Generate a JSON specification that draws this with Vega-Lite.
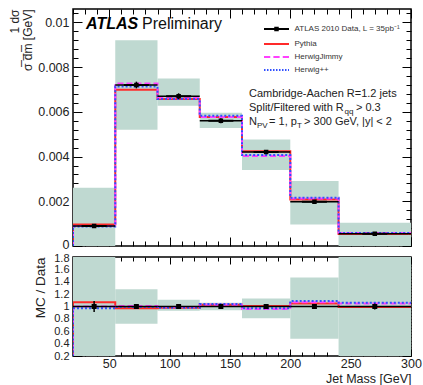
{
  "$schema": "https://vega.github.io/schema/vega-lite/v6.json",
  "padding": {"left": 7, "top": 6, "right": 3, "bottom": 2},
  "spacing": 11,
  "bounds": "flush",
  "config": {
    "font": "Liberation Sans",
    "view": {"stroke": "#000000", "strokeWidth": 1.5},
    "axis": {"domain": false, "grid": false, "labelColor": "#222222", "titleColor": "#222222", "titleFontWeight": "normal", "tickColor": "#000000", "tickWidth": 1, "labelOverlap": false, "labelBound": false, "labelFlush": false}
  },
  "datasets": {
    "bins": [
      {"series": "ATLAS 2010 Data, L = 35pb⁻¹", "lo": 20, "hi": 55, "mid": 37.5, "y": 0.0009, "ylo": 0.00082, "yhi": 0.00098, "blo": 0, "bhi": 0.0026, "r": 1, "rlo": 0.91, "rhi": 1.09, "rblo": 0, "rbhi": 2.89},
      {"series": "ATLAS 2010 Data, L = 35pb⁻¹", "lo": 55, "hi": 90, "mid": 72.5, "y": 0.0072, "ylo": 0.00705, "yhi": 0.00735, "blo": 0.0052, "bhi": 0.0092, "r": 1, "rlo": 0.98, "rhi": 1.02, "rblo": 0.72, "rbhi": 1.28},
      {"series": "ATLAS 2010 Data, L = 35pb⁻¹", "lo": 90, "hi": 125, "mid": 107.5, "y": 0.0067, "ylo": 0.00657, "yhi": 0.00683, "blo": 0.00627, "bhi": 0.00749, "r": 1, "rlo": 0.98, "rhi": 1.02, "rblo": 0.93, "rbhi": 1.11},
      {"series": "ATLAS 2010 Data, L = 35pb⁻¹", "lo": 125, "hi": 160, "mid": 142.5, "y": 0.0056, "ylo": 0.00549, "yhi": 0.00571, "blo": 0.00528, "bhi": 0.00596, "r": 1, "rlo": 0.98, "rhi": 1.02, "rblo": 0.94, "rbhi": 1.06},
      {"series": "ATLAS 2010 Data, L = 35pb⁻¹", "lo": 160, "hi": 200, "mid": 180, "y": 0.0042, "ylo": 0.00411, "yhi": 0.00429, "blo": 0.0034, "bhi": 0.00476, "r": 1, "rlo": 0.98, "rhi": 1.02, "rblo": 0.81, "rbhi": 1.13},
      {"series": "ATLAS 2010 Data, L = 35pb⁻¹", "lo": 200, "hi": 240, "mid": 220, "y": 0.00198, "ylo": 0.00191, "yhi": 0.00205, "blo": 0.00096, "bhi": 0.00291, "r": 1, "rlo": 0.96, "rhi": 1.04, "rblo": 0.48, "rbhi": 1.47},
      {"series": "ATLAS 2010 Data, L = 35pb⁻¹", "lo": 240, "hi": 300, "mid": 270, "y": 0.00055, "ylo": 0.0005, "yhi": 0.0006, "blo": 0, "bhi": 0.00104, "r": 1, "rlo": 0.95, "rhi": 1.05, "rblo": 0, "rbhi": 1.89}
    ],
    "mc": [
      {"series": "Pythia", "edge": 20, "value": 0, "ratio": 0},
      {"series": "Pythia", "edge": 20, "value": 0.00096, "ratio": 1.07},
      {"series": "Pythia", "edge": 55, "value": 0.00699, "ratio": 0.97},
      {"series": "Pythia", "edge": 90, "value": 0.00657, "ratio": 0.98},
      {"series": "Pythia", "edge": 125, "value": 0.00577, "ratio": 1.03},
      {"series": "Pythia", "edge": 160, "value": 0.00424, "ratio": 1.01},
      {"series": "Pythia", "edge": 200, "value": 0.00208, "ratio": 1.05},
      {"series": "Pythia", "edge": 240, "value": 0.00054, "ratio": 0.99},
      {"series": "Pythia", "edge": 300, "value": 0.00054, "ratio": 0.99},
      {"series": "HerwigJimmy", "edge": 20, "value": 0, "ratio": 0},
      {"series": "HerwigJimmy", "edge": 20, "value": 0.0009, "ratio": 1.0},
      {"series": "HerwigJimmy", "edge": 55, "value": 0.00727, "ratio": 1.01},
      {"series": "HerwigJimmy", "edge": 90, "value": 0.00663, "ratio": 0.99},
      {"series": "HerwigJimmy", "edge": 125, "value": 0.00577, "ratio": 1.03},
      {"series": "HerwigJimmy", "edge": 160, "value": 0.00403, "ratio": 0.96},
      {"series": "HerwigJimmy", "edge": 200, "value": 0.00212, "ratio": 1.07},
      {"series": "HerwigJimmy", "edge": 240, "value": 0.00058, "ratio": 1.05},
      {"series": "HerwigJimmy", "edge": 300, "value": 0.00058, "ratio": 1.05},
      {"series": "Herwig++", "edge": 20, "value": 0, "ratio": 0},
      {"series": "Herwig++", "edge": 20, "value": 0.00087, "ratio": 0.97},
      {"series": "Herwig++", "edge": 55, "value": 0.00713, "ratio": 0.99},
      {"series": "Herwig++", "edge": 90, "value": 0.00657, "ratio": 0.98},
      {"series": "Herwig++", "edge": 125, "value": 0.00582, "ratio": 1.04},
      {"series": "Herwig++", "edge": 160, "value": 0.00407, "ratio": 0.97},
      {"series": "Herwig++", "edge": 200, "value": 0.00216, "ratio": 1.09},
      {"series": "Herwig++", "edge": 240, "value": 0.00058, "ratio": 1.06},
      {"series": "Herwig++", "edge": 300, "value": 0.00058, "ratio": 1.06}
    ]
  },
  "vconcat": [
    {
      "width": 338,
      "height": 237,
      "resolve": {"axis": {"x": "independent", "y": "independent"}},
      "layer": [
        {
          "data": {"name": "bins"},
          "mark": {"type": "rect", "color": "#bfd9d1"},
          "encoding": {
            "x": {"field": "lo", "type": "quantitative", "scale": {"domain": [20, 300], "nice": false, "zero": false},
              "axis": {"orient": "bottom", "values": [20,30,40,50,60,70,80,90,100,110,120,130,140,150,160,170,180,190,200,210,220,230,240,250,260,270,280,290,300], "labels": false, "title": null,
                "tickSize": {"condition": {"test": "datum.value % 50 === 0", "value": -9}, "value": -5}}},
            "x2": {"field": "hi"},
            "y": {"field": "blo", "type": "quantitative", "scale": {"domain": [0, 0.0106], "nice": false, "zero": false},
              "axis": {"orient": "left", "values": [0,0.0004,0.0008,0.0012,0.0016,0.002,0.0024,0.0028,0.0032,0.0036,0.004,0.0044,0.0048,0.0052,0.0056,0.006,0.0064,0.0068,0.0072,0.0076,0.008,0.0084,0.0088,0.0092,0.0096,0.01,0.0104],
                "labelExpr": "abs(datum.value*500 - round(datum.value*500)) < 0.01 ? format(datum.value, '~g') : ''",
                "labelFontSize": 12.5, "labelPadding": 13,
                "labelOffset": {"condition": {"test": "datum.value === 0", "value": -2}, "value": 0},
                "tickSize": {"condition": {"test": "abs(datum.value*500 - round(datum.value*500)) < 0.01", "value": -9}, "value": -5},
                "title": ["1   dσ           ", "σ̅   d̅m̅ [GeV]"],
                "titleAnchor": "end", "titleFontSize": 12, "titleLineHeight": 13, "titlePadding": 3}},
            "y2": {"field": "bhi"}
          }
        },
        {
          "data": {"name": "mc"},
          "mark": {"type": "line", "interpolate": "step-after", "strokeWidth": 2, "clip": true},
          "encoding": {
            "x": {"field": "edge", "type": "quantitative", "scale": {"domain": [20, 300], "nice": false, "zero": false},
              "axis": {"orient": "top", "values": [20,30,40,50,60,70,80,90,100,110,120,130,140,150,160,170,180,190,200,210,220,230,240,250,260,270,280,290,300], "labels": false, "title": null,
                "tickSize": {"condition": {"test": "datum.value % 50 === 0", "value": -9}, "value": -5}}},
            "y": {"field": "value", "type": "quantitative", "scale": {"domain": [0, 0.0106], "nice": false, "zero": false},
              "axis": {"orient": "right", "values": [0,0.0004,0.0008,0.0012,0.0016,0.002,0.0024,0.0028,0.0032,0.0036,0.004,0.0044,0.0048,0.0052,0.0056,0.006,0.0064,0.0068,0.0072,0.0076,0.008,0.0084,0.0088,0.0092,0.0096,0.01,0.0104], "labels": false, "title": null,
                "tickSize": {"condition": {"test": "abs(datum.value*500 - round(datum.value*500)) < 0.01", "value": -9}, "value": -5}}},
            "stroke": {"field": "series", "type": "nominal", "scale": {"domain": ["Pythia", "HerwigJimmy", "Herwig++"], "range": ["#ff2a2a", "#ff40ff", "#3050ff"]}, "legend": null},
            "strokeDash": {"field": "series", "type": "nominal", "scale": {"domain": ["Pythia", "HerwigJimmy", "Herwig++"], "range": [[1, 0], [6, 3], [2, 2]]}, "legend": null}
          }
        },
        {
          "data": {"name": "bins"},
          "mark": {"type": "rule", "color": "#000000", "strokeWidth": 1.5},
          "encoding": {
            "x": {"field": "lo", "type": "quantitative", "axis": null},
            "x2": {"field": "hi"},
            "y": {"field": "y", "type": "quantitative", "axis": null}
          }
        },
        {
          "data": {"name": "bins"},
          "mark": {"type": "rule", "color": "#000000", "strokeWidth": 1.5},
          "encoding": {
            "x": {"field": "mid", "type": "quantitative", "axis": null},
            "y": {"field": "ylo", "type": "quantitative", "axis": null},
            "y2": {"field": "yhi"}
          }
        },
        {
          "data": {"name": "bins"},
          "mark": {"type": "point", "size": 36, "filled": false, "strokeWidth": 2, "opacity": 1},
          "encoding": {
            "x": {"field": "mid", "type": "quantitative", "axis": null},
            "y": {"field": "y", "type": "quantitative", "axis": null},
            "color": {"field": "series", "type": "nominal",
              "scale": {"domain": ["ATLAS 2010 Data, L = 35pb⁻¹", "Pythia", "HerwigJimmy", "Herwig++"], "range": ["#000000", "#ff2a2a", "#ff40ff", "#3050ff"]},
              "legend": {"orient": "none", "legendX": 199.5, "legendY": 16, "title": null, "symbolSize": 36, "symbolStrokeWidth": 2, "labelFontSize": 8, "labelColor": "#333333", "rowPadding": 5, "padding": 0, "labelOffset": 14, "labelLimit": 300}},
            "shape": {"field": "series", "type": "nominal",
              "scale": {"domain": ["ATLAS 2010 Data, L = 35pb⁻¹", "Pythia", "HerwigJimmy", "Herwig++"],
                "range": ["M-4.1667,0H4.1667M-0.4167,-0.4167H0.4167V0.4167H-0.4167Z", "M-4.1667,0H4.1667", "M-4.1667,0H-2.0833M-1.0417,0H1.0417M2.0833,0H4.1667", "M-4.1667,0H-3.6667M-3.1667,0H-2.6667M-2.1667,0H-1.6667M-1.1667,0H-0.6667M-0.1667,0H0.3333M0.8333,0H1.3333M1.8333,0H2.3333M2.8333,0H3.3333M3.8333,0H4.1667"]},
              "legend": {"orient": "none", "legendX": 199.5, "legendY": 16, "title": null, "symbolSize": 36, "symbolStrokeWidth": 2, "labelFontSize": 8, "labelColor": "#333333", "rowPadding": 5, "padding": 0, "labelOffset": 14, "labelLimit": 300}}
          }
        },
        {
          "data": {"values": [{}]},
          "mark": {"type": "text", "text": "ATLAS", "align": "left", "baseline": "alphabetic", "fontSize": 16, "fontWeight": "bold", "fontStyle": "italic", "color": "#000000"},
          "encoding": {"x": {"datum": 30.8, "type": "quantitative", "axis": null}, "y": {"datum": 0.009706, "type": "quantitative", "axis": null}}
        },
        {
          "data": {"values": [{}]},
          "mark": {"type": "text", "text": "Preliminary", "align": "left", "baseline": "alphabetic", "fontSize": 16, "color": "#111111"},
          "encoding": {"x": {"datum": 77.2, "type": "quantitative", "axis": null}, "y": {"datum": 0.009706, "type": "quantitative", "axis": null}}
        },
        {
          "data": {"values": [{}]},
          "mark": {"type": "text", "text": "Cambridge-Aachen R=1.2 jets", "align": "left", "baseline": "alphabetic", "fontSize": 11, "color": "#222222"},
          "encoding": {"x": {"datum": 165.8, "type": "quantitative", "axis": null}, "y": {"datum": 0.006686, "type": "quantitative", "axis": null}}
        },
        {
          "data": {"values": [{}]},
          "mark": {"type": "text", "text": "Split/Filtered with R", "align": "left", "baseline": "alphabetic", "fontSize": 11, "color": "#222222"},
          "encoding": {"x": {"datum": 165.8, "type": "quantitative", "axis": null}, "y": {"datum": 0.00606, "type": "quantitative", "axis": null}}
        },
        {
          "data": {"values": [{}]},
          "mark": {"type": "text", "text": "qq", "align": "left", "baseline": "alphabetic", "fontSize": 8, "color": "#222222"},
          "encoding": {"x": {"datum": 244.9, "type": "quantitative", "axis": null}, "y": {"datum": 0.005926, "type": "quantitative", "axis": null}}
        },
        {
          "data": {"values": [{}]},
          "mark": {"type": "text", "text": "> 0.3", "align": "left", "baseline": "alphabetic", "fontSize": 11, "color": "#222222"},
          "encoding": {"x": {"datum": 254.4, "type": "quantitative", "axis": null}, "y": {"datum": 0.00606, "type": "quantitative", "axis": null}}
        },
        {
          "data": {"values": [{}]},
          "mark": {"type": "text", "text": "N", "align": "left", "baseline": "alphabetic", "fontSize": 11, "color": "#222222"},
          "encoding": {"x": {"datum": 165.8, "type": "quantitative", "axis": null}, "y": {"datum": 0.005434, "type": "quantitative", "axis": null}}
        },
        {
          "data": {"values": [{}]},
          "mark": {"type": "text", "text": "PV", "align": "left", "baseline": "alphabetic", "fontSize": 8, "color": "#222222"},
          "encoding": {"x": {"datum": 172.4, "type": "quantitative", "axis": null}, "y": {"datum": 0.0053, "type": "quantitative", "axis": null}}
        },
        {
          "data": {"values": [{}]},
          "mark": {"type": "text", "text": "= 1, p", "align": "left", "baseline": "alphabetic", "fontSize": 11, "color": "#222222"},
          "encoding": {"x": {"datum": 182.4, "type": "quantitative", "axis": null}, "y": {"datum": 0.005434, "type": "quantitative", "axis": null}}
        },
        {
          "data": {"values": [{}]},
          "mark": {"type": "text", "text": "T", "align": "left", "baseline": "alphabetic", "fontSize": 8, "color": "#222222"},
          "encoding": {"x": {"datum": 205.6, "type": "quantitative", "axis": null}, "y": {"datum": 0.0053, "type": "quantitative", "axis": null}}
        },
        {
          "data": {"values": [{}]},
          "mark": {"type": "text", "text": "> 300 GeV, |y| < 2", "align": "left", "baseline": "alphabetic", "fontSize": 11, "color": "#222222"},
          "encoding": {"x": {"datum": 211.4, "type": "quantitative", "axis": null}, "y": {"datum": 0.005434, "type": "quantitative", "axis": null}}
        }
      ]
    },
    {
      "width": 338,
      "height": 99,
      "resolve": {"axis": {"x": "independent", "y": "independent"}},
      "layer": [
        {
          "data": {"name": "bins"},
          "mark": {"type": "rect", "color": "#bfd9d1", "clip": true},
          "encoding": {
            "x": {"field": "lo", "type": "quantitative", "scale": {"domain": [20, 300], "nice": false, "zero": false},
              "axis": {"orient": "bottom", "values": [20,30,40,50,60,70,80,90,100,110,120,130,140,150,160,170,180,190,200,210,220,230,240,250,260,270,280,290,300],
                "labelExpr": "datum.value % 50 === 0 ? datum.label : ''", "labelFontSize": 12.5, "labelPadding": 8,
                "tickSize": {"condition": {"test": "datum.value % 50 === 0", "value": -7}, "value": -4},
                "title": "Jet Mass [GeV]", "titleAnchor": "end", "titleFontSize": 12.5, "titlePadding": 0}},
            "x2": {"field": "hi"},
            "y": {"field": "rblo", "type": "quantitative", "scale": {"domain": [0.2, 1.8], "nice": false, "zero": false},
              "axis": {"orient": "left", "values": [0.2,0.25,0.3,0.35,0.4,0.45,0.5,0.55,0.6,0.65,0.7,0.75,0.8,0.85,0.9,0.95,1,1.05,1.1,1.15,1.2,1.25,1.3,1.35,1.4,1.45,1.5,1.55,1.6,1.65,1.7,1.75,1.8],
                "labelExpr": "abs(datum.value*5 - round(datum.value*5)) < 0.01 ? format(datum.value, '~g') : ''",
                "labelFontSize": 11, "labelPadding": 13,
                "labelOffset": {"condition": {"test": "datum.value > 1.79", "value": 1}, "value": 0},
                "tickSize": {"condition": {"test": "abs(datum.value*5 - round(datum.value*5)) < 0.01", "value": -9}, "value": -4},
                "title": "MC / Data", "titleAnchor": "end", "titleFontSize": 13.5, "titlePadding": 6}},
            "y2": {"field": "rbhi"}
          }
        },
        {
          "data": {"name": "mc"},
          "mark": {"type": "line", "interpolate": "step-after", "strokeWidth": 2, "clip": true},
          "encoding": {
            "x": {"field": "edge", "type": "quantitative", "scale": {"domain": [20, 300], "nice": false, "zero": false},
              "axis": {"orient": "top", "values": [20,30,40,50,60,70,80,90,100,110,120,130,140,150,160,170,180,190,200,210,220,230,240,250,260,270,280,290,300], "labels": false, "title": null,
                "tickSize": {"condition": {"test": "datum.value % 50 === 0", "value": -7}, "value": -4}}},
            "y": {"field": "ratio", "type": "quantitative", "scale": {"domain": [0.2, 1.8], "nice": false, "zero": false},
              "axis": {"orient": "right", "values": [0.2,0.25,0.3,0.35,0.4,0.45,0.5,0.55,0.6,0.65,0.7,0.75,0.8,0.85,0.9,0.95,1,1.05,1.1,1.15,1.2,1.25,1.3,1.35,1.4,1.45,1.5,1.55,1.6,1.65,1.7,1.75,1.8], "labels": false, "title": null,
                "tickSize": {"condition": {"test": "abs(datum.value*5 - round(datum.value*5)) < 0.01", "value": -9}, "value": -4}}},
            "stroke": {"field": "series", "type": "nominal", "scale": {"domain": ["Pythia", "HerwigJimmy", "Herwig++"], "range": ["#ff2a2a", "#ff40ff", "#3050ff"]}, "legend": null},
            "strokeDash": {"field": "series", "type": "nominal", "scale": {"domain": ["Pythia", "HerwigJimmy", "Herwig++"], "range": [[1, 0], [6, 3], [2, 2]]}, "legend": null}
          }
        },
        {
          "data": {"name": "bins"},
          "mark": {"type": "rule", "color": "#000000", "strokeWidth": 1.5},
          "encoding": {
            "x": {"field": "lo", "type": "quantitative", "axis": null},
            "x2": {"field": "hi"},
            "y": {"field": "r", "type": "quantitative", "axis": null}
          }
        },
        {
          "data": {"name": "bins"},
          "mark": {"type": "rule", "color": "#000000", "strokeWidth": 1.5},
          "encoding": {
            "x": {"field": "mid", "type": "quantitative", "axis": null},
            "y": {"field": "rlo", "type": "quantitative", "axis": null},
            "y2": {"field": "rhi"}
          }
        },
        {
          "data": {"name": "bins"},
          "mark": {"type": "square", "size": 25, "filled": true, "color": "#000000", "opacity": 1},
          "encoding": {
            "x": {"field": "mid", "type": "quantitative", "axis": null},
            "y": {"field": "r", "type": "quantitative", "axis": null}
          }
        }
      ]
    }
  ]
}
